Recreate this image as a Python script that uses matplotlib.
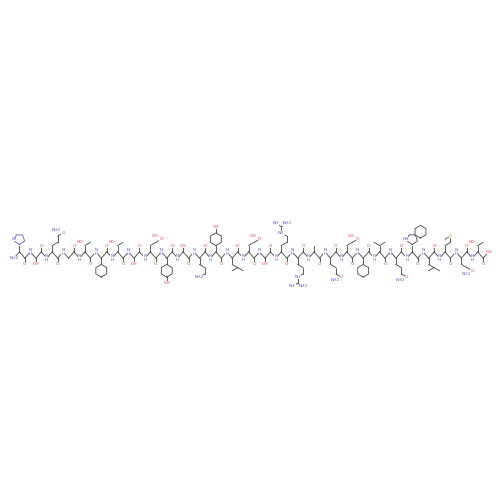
import matplotlib.pyplot as plt
import numpy as np

# glucagon-like sequence, left to right
residues = list("HSQGTFTSDYSKYLDSRRAQDFVQWLMNT")
# side chain: (number of chain bonds, terminal label, ring)
side = {
    "H": (1, "", "imid"), "S": (1, "OH", ""), "Q": (3, "NH2", "amide"),
    "G": (0, "", ""), "T": (1, "OH", "me"), "F": (1, "", "ph"),
    "D": (2, "OH", "acid"), "Y": (1, "OH", "phOH"), "K": (4, "NH2", ""),
    "L": (2, "", "ipr"), "R": (4, "NH", "guan"), "A": (1, "", ""),
    "V": (1, "", "ipr"), "W": (1, "", "ind"), "M": (3, "S", "sme"),
    "N": (2, "NH2", "amide"),
}

BLUE, RED, GRAY, YEL = "#5a5ad8", "#e83a3a", "#444444", "#b0a020"
b = 6.3
fig = plt.figure(figsize=(5, 5), dpi=100)
ax = fig.add_axes([0, 0, 1, 1])
ax.set_xlim(0, 500); ax.set_ylim(500, 0); ax.axis("off")

def line(p, q, c=GRAY):
    ax.plot([p[0], q[0]], [p[1], q[1]], color=c, lw=0.6)

def label(p, s, c):
    ax.text(p[0], p[1], s, color=c, fontsize=3.2, ha="center", va="center",
            bbox=dict(fc="white", ec="none", pad=0.1))

def ring(c, r, n, col=GRAY):
    a = np.linspace(0, 2 * np.pi, n + 1) + np.pi / 2
    ax.plot(c[0] + r * np.cos(a), c[1] + r * np.sin(a), color=col, lw=0.6)

x0, y0 = 14, 255
dx = b * np.cos(np.pi / 6)
pts = [(x0 + k * dx, y0 + (-b / 2 if k % 2 else b / 2)) for k in range(3 * len(residues) + 1)]
for k in range(len(pts) - 1):
    line(pts[k], pts[k + 1])

for i, r in enumerate(residues):
    n, ca, c = pts[3 * i], pts[3 * i + 1], pts[3 * i + 2]
    label(n, "NH2" if i == 0 else "N\nH", BLUE)
    # carbonyl
    sc = 1 if c[1] > y0 else -1
    o = (c[0], c[1] + sc * b)
    line(c, o); label(o, "O", RED)
    # side chain
    nb, term, kind = side[r]
    d = 1 if ca[1] > y0 else -1
    p = ca
    for j in range(nb):
        q = (p[0] + (dx if j % 2 else 0) * (1 if j % 4 == 1 else -1), p[1] + d * (b if j % 2 == 0 else b / 2))
        line(p, q); p = q
    if kind in ("ph", "phOH"):
        cen = (p[0], p[1] + d * b)
        ring(cen, b, 6)
        if kind == "phOH":
            t = (cen[0], cen[1] + d * 2 * b)
            line((cen[0], cen[1] + d * b), t); label(t, "OH", RED)
    elif kind == "imid" or kind == "ind":
        cen = (p[0], p[1] + d * b)
        ring(cen, b * 0.85, 5, BLUE if kind == "imid" else GRAY)
        if kind == "ind":
            ring((cen[0] + b * 1.3, cen[1] + d * b * 1.2), b, 6)
            label((cen[0] - b, cen[1]), "HN", BLUE)
        else:
            label((cen[0] - b, cen[1]), "N", BLUE)
    elif kind == "ipr":
        line(p, (p[0] - dx, p[1] + d * b / 2)); line(p, (p[0] + dx, p[1] + d * b / 2))
    elif kind == "me":
        line(p, (p[0] + dx, p[1] + d * b / 2))
        label((p[0] - dx, p[1] + d * b / 2), "HO", RED)
    elif kind == "acid" or kind == "amide":
        line(p, (p[0] + dx, p[1] + d * b / 2))
        label((p[0] + dx, p[1] + d * b / 2), "O", RED)
        t = (p[0] - dx * 0.2, p[1] + d * b)
        label(t, "OH" if kind == "acid" else "NH2", RED if kind == "acid" else BLUE)
    elif kind == "guan":
        label(p, "NH", BLUE)
        q = (p[0], p[1] + d * b); line(p, q)
        line(q, (q[0] + dx, q[1] + d * b / 2)); label((q[0] + dx, q[1] + d * b / 2), "NH2", BLUE)
        line(q, (q[0] - dx, q[1] + d * b / 2)); label((q[0] - dx, q[1] + d * b / 2), "NH", BLUE)
    elif kind == "sme":
        label(p, "S", YEL); line(p, (p[0] - dx, p[1] - d * b / 2))
    elif term:
        label(p, term, BLUE if term.startswith("N") else RED)
# C-terminus
label(pts[-1], "OH", RED)
fig.savefig("out.png", dpi=100)
